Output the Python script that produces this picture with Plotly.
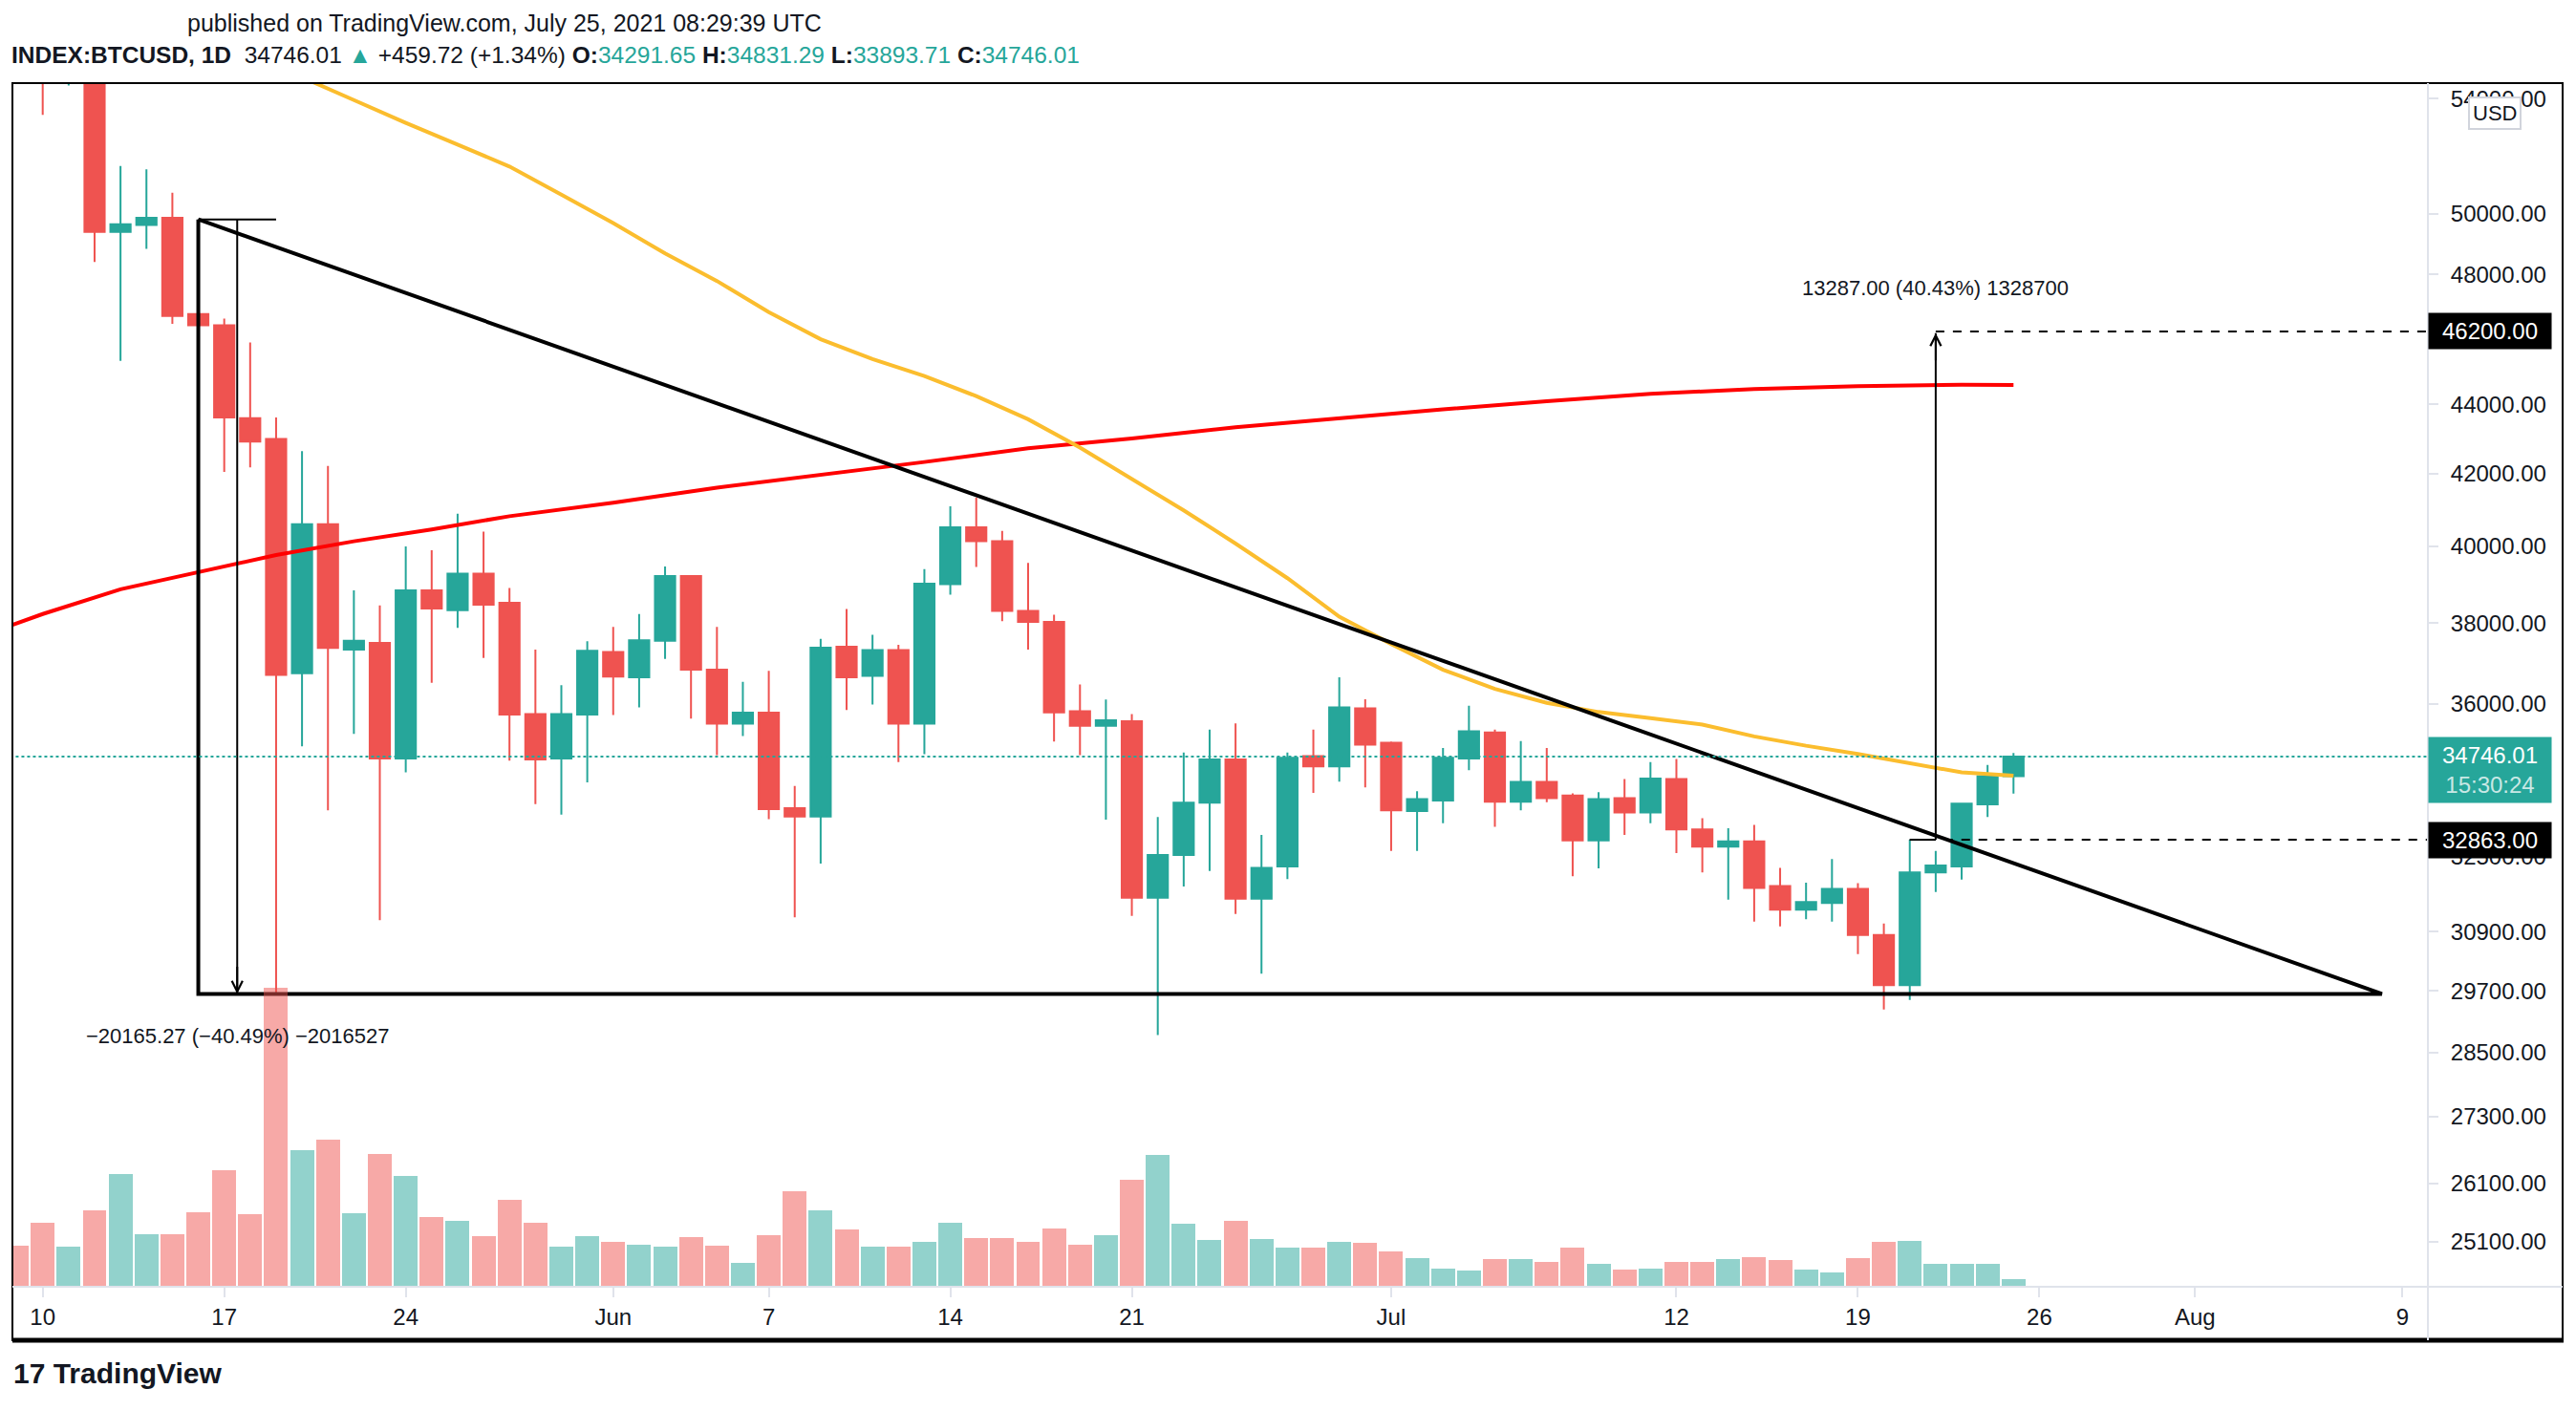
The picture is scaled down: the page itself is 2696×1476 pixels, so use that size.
import math
import pandas as pd
import plotly.graph_objects as go

# ---------------- data ----------------
candle_dates = pd.date_range("2021-05-09", "2021-07-25", freq="D")

open_prices = [
    58900, 58250, 55850, 56700, 49390, 49620, 49860, 46740, 46390, 43590, 42990, 36740, 40600, 37330, 37500, 34700,
    38840, 38330, 39280, 38520, 35750, 34700, 35740,
    37270, 36640, 37550, 39215, 36830, 35520, 35785, 33565, 33380, 37400, 36680, 37320, 35520, 39000, 40515, 40140,
    38310, 38030, 35820, 35470, 35580, 31610, 32530, 33690, 34680, 31590, 32280, 34760, 34520, 35890,
    35070, 33500, 33740, 34700, 35310, 33710, 34160, 33850, 32850, 33790, 33470, 34230, 33090, 32710, 32830, 31860,
    31360, 31500, 31800, 30830, 29810, 32150, 32280, 33650, 34291.65]
high_prices = [
    59300, 59500, 56900, 57900, 51620, 51500, 50700, 49770, 46600, 45860, 43610, 42640, 42220, 38840, 38450, 40000,
    39900, 40890, 40400, 38900, 37330, 36450, 37540,
    37900, 38230, 39470, 39240, 37900, 36530, 36800, 34070, 37600, 38360, 37700, 37450, 39400, 41090, 41330, 40420,
    39560, 38210, 36470, 36100, 35750, 33370, 34840, 35380, 35530, 32970, 34840, 35380, 36640, 36110,
    35100, 33950, 34950, 35950, 35380, 35110, 34950, 33900, 33930, 34230, 34620, 34690, 33340, 33120, 33190, 32250,
    31930, 32440, 31920, 31070, 32863, 32620, 33670, 34550, 34831.29]
low_prices = [
    56300, 53420, 54480, 48400, 45300, 48830, 46440, 43740, 42050, 42180, 29620, 34985, 33520, 35280, 31140, 34380,
    36510, 37880, 37120, 34650, 33660, 33420, 34150,
    35730, 35910, 37100, 35640, 34780, 35230, 33320, 31200, 32340, 35850, 35980, 34620, 34800, 38730, 39455, 38050,
    37330, 35100, 34780, 33310, 31230, 28830, 31850, 32180, 31270, 30040, 32010, 33910, 34170, 34035,
    32620, 32620, 33230, 34430, 33150, 33520, 33700, 32070, 32240, 32970, 33230, 32570, 32150, 31570, 31110, 31010,
    31160, 31110, 30440, 29330, 29520, 31730, 31995, 33370, 33893.71]
close_prices = [
    58250, 55850, 56700, 49390, 49640, 49860, 46680, 46390, 43610, 42910, 36700, 40600, 37370, 37550, 34700, 38840,
    38370, 39280, 38470, 35740, 34680, 35750, 37300,
    36660, 37565, 39215, 36830, 35520, 35785, 33545, 33380, 37375, 36640, 37320, 35520, 39015, 40515, 40140, 38310,
    38030, 35790, 35470, 35600, 31610, 32530, 33690, 34680, 31590, 32250, 34720, 34520, 35910, 35025,
    33520, 33770, 34720, 35340, 33710, 34160, 33790, 32850, 33770, 33470, 34240, 33090, 32710, 32830, 31820, 31360,
    31520, 31800, 30830, 29810, 32150, 32300, 33670, 34291.65, 34746.01]
volumes = [
    43, 67, 42, 80, 118, 55, 55, 78, 122, 76, 313, 143, 154, 77, 139, 116, 73, 69, 53, 91, 67, 42, 53,
    47, 44, 42, 52, 43, 25, 54, 100, 80, 60, 42, 42, 47, 67, 51, 51, 47, 61, 44, 54, 112, 138, 66, 49, 69, 50, 41,
    41, 47, 46,
    37, 30, 19, 17, 29, 29, 26, 41, 24, 18, 19, 26, 26, 29, 31, 28, 18, 15, 30, 47, 48, 24, 24, 24, 8]

ma50_dates = ["2021-05-18", "2021-05-20", "2021-05-22", "2021-05-24", "2021-05-26", "2021-05-28", "2021-05-30",
              "2021-06-01", "2021-06-03", "2021-06-05", "2021-06-07", "2021-06-09", "2021-06-11", "2021-06-13",
              "2021-06-15", "2021-06-17", "2021-06-19", "2021-06-21", "2021-06-23", "2021-06-25", "2021-06-27",
              "2021-06-29", "2021-07-01", "2021-07-03", "2021-07-05", "2021-07-07", "2021-07-09", "2021-07-11",
              "2021-07-13", "2021-07-15", "2021-07-17", "2021-07-19", "2021-07-21", "2021-07-23", "2021-07-25"]
ma50_values = [55700, 54780, 53950, 53130, 52360, 51600, 50640, 49680, 48680, 47790, 46800, 45960, 45350, 44840,
               44240, 43560, 42740, 41840, 40980, 40080, 39160, 38160, 37470, 36830, 36360, 36020, 35800, 35655,
               35500, 35220, 35000, 34810, 34600, 34380, 34307]

ma200_dates = ["2021-05-08", "2021-05-10", "2021-05-13", "2021-05-16", "2021-05-19", "2021-05-22", "2021-05-25",
               "2021-05-28", "2021-06-01", "2021-06-05", "2021-06-09", "2021-06-13", "2021-06-17", "2021-06-21",
               "2021-06-25", "2021-06-29", "2021-07-03", "2021-07-07", "2021-07-11", "2021-07-15", "2021-07-19",
               "2021-07-23", "2021-07-25"]
ma200_values = [37760, 38230, 38870, 39330, 39770, 40140, 40460, 40820, 41190, 41610, 41960, 42330, 42720, 43000,
                43330, 43600, 43850, 44090, 44310, 44450, 44540, 44580, 44575]

price_ticks = [25100, 26100, 27300, 28500, 29700, 30900, 32500, 36000, 38000, 40000, 42000, 44000, 48000, 50000, 54000]
time_tick_dates = ["2021-05-10", "2021-05-17", "2021-05-24", "2021-06-01", "2021-06-07", "2021-06-14", "2021-06-21",
                   "2021-07-01", "2021-07-12", "2021-07-19", "2021-07-26", "2021-08-01", "2021-08-09"]
time_tick_labels = ["10", "17", "24", "Jun", "7", "14", "21", "Jul", "12", "19", "26", "Aug", "9"]

# drawing anchors (dates / prices)
triangle_start_date = "2021-05-16"
triangle_top_price = 49803
support_price = 29638
triangle_apex_date = "2021-08-08 05:00"
measure_down_dates = ["2021-05-16", "2021-05-17 12:00", "2021-05-19"]
measure_down_text = "−20165.27 (−40.49%) −2016527"
measure_up_dates = ["2021-07-21", "2021-07-22", "2021-07-23"]
measure_up_low = 32863
measure_up_high = 46150
target_price = 46200
breakout_price = 32863
measure_up_text = "13287.00 (40.43%) 1328700"
last_price = 34746.01
countdown = "15:30:24"
x_range = ["2021-05-08 19:58", "2021-08-09 23:32"]
y_range_prices = [24356, 54566]

# ---------------- styling ----------------
UP = "#26a69a"
DOWN = "#ef5350"
UP_VOL = "rgba(38,166,154,0.5)"
DOWN_VOL = "rgba(239,83,80,0.5)"
TXT = "#131722"
GRID = "#e0e3eb"
FONT = "Liberation Sans"

W, H = 2696, 1476
L, R, T, B = 13, 2541, 87, 1347


def paper_x(px):
    return (px - L) / (R - L)


def paper_y(py):
    return (B - py) / (B - T)


fig = go.Figure()

fig.add_trace(go.Candlestick(
    x=candle_dates, open=open_prices, high=high_prices, low=low_prices, close=close_prices,
    increasing=dict(line=dict(color=UP, width=2), fillcolor=UP),
    decreasing=dict(line=dict(color=DOWN, width=2), fillcolor=DOWN),
    whiskerwidth=0, hoverinfo="skip", showlegend=False))

fig.add_trace(go.Scatter(x=ma200_dates, y=ma200_values, mode="lines",
                         line=dict(color="#ff0000", width=4), hoverinfo="skip", showlegend=False))
fig.add_trace(go.Scatter(x=ma50_dates, y=ma50_values, mode="lines",
                         line=dict(color="#fbbd2e", width=4), hoverinfo="skip", showlegend=False))

# triangle
fig.add_trace(go.Scatter(
    x=[triangle_start_date, triangle_start_date, triangle_apex_date, triangle_start_date],
    y=[triangle_top_price, support_price, support_price, triangle_top_price],
    mode="lines", line=dict(color="black", width=4), hoverinfo="skip", showlegend=False))

# measurement down
fig.add_trace(go.Scatter(
    x=[measure_down_dates[0], measure_down_dates[2], None, measure_down_dates[1], measure_down_dates[1], None,
       measure_down_dates[0], measure_down_dates[2]],
    y=[triangle_top_price, triangle_top_price, None, triangle_top_price, support_price, None,
       support_price, support_price],
    mode="lines", line=dict(color="black", width=2), hoverinfo="skip", showlegend=False))

# measurement up
fig.add_trace(go.Scatter(
    x=[measure_up_dates[1], measure_up_dates[1], None, measure_up_dates[0], measure_up_dates[1]],
    y=[measure_up_low, measure_up_high, None, measure_up_low, measure_up_low],
    mode="lines", line=dict(color="black", width=2), hoverinfo="skip", showlegend=False))

# dashed horizontal levels
fig.add_trace(go.Scatter(x=[measure_up_dates[1], "2021-08-12"], y=[target_price, target_price], mode="lines",
                         line=dict(color="black", width=2, dash="dash"), hoverinfo="skip", showlegend=False))
fig.add_trace(go.Scatter(x=[measure_up_dates[0], "2021-08-12"], y=[breakout_price, breakout_price], mode="lines",
                         line=dict(color="black", width=2, dash="dash"), hoverinfo="skip", showlegend=False))

# last price dotted line
fig.add_trace(go.Scatter(x=["2021-05-01", "2021-08-12"], y=[last_price, last_price], mode="lines",
                         line=dict(color=UP, width=2, dash="dot"), hoverinfo="skip", showlegend=False))

# volume
vol_colors = [UP_VOL if c >= o else DOWN_VOL for o, c in zip(open_prices, close_prices)]
fig.add_trace(go.Bar(x=candle_dates, y=volumes, marker=dict(color=vol_colors, line=dict(width=0)),
                     width=0.92 * 86400000, yaxis="y2", hoverinfo="skip", showlegend=False))

annotations = []
# arrowheads
annotations.append(dict(x=measure_down_dates[1], y=math.log10(support_price), xref="x", yref="y",
                        text="", showarrow=True, arrowhead=5, arrowsize=1.1, arrowwidth=2, arrowcolor="black",
                        ax=0, ay=-30))
annotations.append(dict(x=measure_up_dates[1], y=math.log10(measure_up_high), xref="x", yref="y",
                        text="", showarrow=True, arrowhead=5, arrowsize=1.1, arrowwidth=2, arrowcolor="black",
                        ax=0, ay=30))
# measure labels
annotations.append(dict(x=measure_down_dates[1], y=math.log10(support_price), xref="x", yref="y",
                        text=measure_down_text, showarrow=False, yanchor="top", yshift=-30,
                        font=dict(family=FONT, size=22, color=TXT)))
annotations.append(dict(x=measure_up_dates[1], y=math.log10(measure_up_high), xref="x", yref="y",
                        text=measure_up_text, showarrow=False, yanchor="bottom", yshift=33,
                        font=dict(family=FONT, size=22, color=TXT)))
# price axis labels
for price, label in [(target_price, f"{target_price:.2f}"), (breakout_price, f"{breakout_price:.2f}")]:
    annotations.append(dict(x=1, y=math.log10(price), xref="paper", yref="y", xanchor="left", yanchor="middle",
                            text=label, showarrow=False, bgcolor="black", borderpad=5, width=118, align="center",
                            font=dict(family=FONT, size=24, color="white")))
annotations.append(dict(x=1, y=math.log10(last_price), xref="paper", yref="y", xanchor="left", yanchor="middle",
                        yshift=-14, text=f"{last_price:.2f}<br><span style='color:rgba(255,255,255,0.75)'>{countdown}</span>",
                        showarrow=False, bgcolor=UP, borderpad=5, width=118, align="center",
                        font=dict(family=FONT, size=24, color="white")))
annotations.append(dict(x=paper_x(2611), y=paper_y(118), xref="paper", yref="paper", xanchor="center",
                        yanchor="middle", text="USD", showarrow=False, bgcolor="white", bordercolor="#d1d4dc",
                        borderwidth=2, borderpad=3, font=dict(family=FONT, size=22, color=TXT)))
# header
annotations.append(dict(x=paper_x(194), y=paper_y(24), xref="paper", yref="paper", xanchor="left",
                        yanchor="middle", showarrow=False,
                        text="published on TradingView.com, July 25, 2021 08:29:39 UTC",
                        font=dict(family=FONT, size=25, color=TXT)))
g = f"<span style='color:{UP}'>"
header2 = (f"<b>INDEX:BTCUSD, 1D</b>  34746.01 {g}▲</span> +459.72 (+1.34%) "
           f"<b>O:</b>{g}34291.65</span> <b>H:</b>{g}34831.29</span> "
           f"<b>L:</b>{g}33893.71</span> <b>C:</b>{g}34746.01</span>")
annotations.append(dict(x=paper_x(10), y=paper_y(57), xref="paper", yref="paper", xanchor="left",
                        yanchor="middle", showarrow=False, text=header2,
                        font=dict(family=FONT, size=24.5, color=TXT)))
annotations.append(dict(x=paper_x(12), y=paper_y(1437), xref="paper", yref="paper", xanchor="left",
                        yanchor="middle", showarrow=False, text="<b>17 TradingView</b>",
                        font=dict(family=FONT, size=30, color=TXT)))

shapes = [
    # frame
    dict(type="rect", xref="paper", yref="paper", x0=paper_x(13), x1=paper_x(2682), y0=paper_y(1403),
         y1=paper_y(87), line=dict(color="black", width=2), layer="above"),
    dict(type="line", xref="paper", yref="paper", x0=paper_x(13), x1=paper_x(2683), y0=paper_y(1403),
         y1=paper_y(1403), line=dict(color="black", width=5), layer="above"),
    # axis separators
    dict(type="line", xref="paper", yref="paper", x0=1, x1=1, y0=paper_y(1403), y1=1,
         line=dict(color=GRID, width=2), layer="above"),
    dict(type="line", xref="paper", yref="paper", x0=0, x1=paper_x(2682), y0=0, y1=0,
         line=dict(color=GRID, width=2), layer="above"),
]

fig.update_layout(
    width=W, height=H,
    margin=dict(l=L, r=W - R, t=T, b=H - B, pad=0),
    paper_bgcolor="white", plot_bgcolor="white",
    showlegend=False,
    boxgap=0.22, boxgroupgap=0,
    annotations=annotations, shapes=shapes,
    xaxis=dict(type="date", range=x_range, rangeslider=dict(visible=False), showgrid=False, zeroline=False,
               showline=False, tickmode="array", tickvals=time_tick_dates, ticktext=time_tick_labels,
               ticks="outside", ticklen=10, tickcolor=GRID, tickwidth=2,
               tickfont=dict(family=FONT, size=24, color=TXT), fixedrange=True),
    yaxis=dict(type="log", range=[math.log10(y_range_prices[0]), math.log10(y_range_prices[1])], side="right",
               showgrid=False, zeroline=False, showline=False, tickmode="array", tickvals=price_ticks,
               ticktext=[f"{v:.2f}" for v in price_ticks], ticks="outside", ticklen=10, tickcolor=GRID,
               tickwidth=2, ticklabelstandoff=8, tickfont=dict(family=FONT, size=24, color=TXT)),
    yaxis2=dict(overlaying="y", range=[0, B - T], visible=False, fixedrange=True),
    bargap=0,
)

fig.write_html("out.html", config={"displayModeBar": False},
               post_script="document.body.style.margin='0px';")
